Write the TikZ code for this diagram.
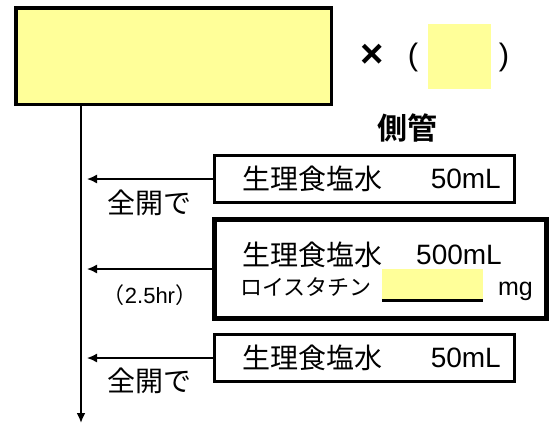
\documentclass[tikz,border=0pt]{standalone}
\usepackage{fontspec}
\setmainfont{Liberation Sans}
\newfontfamily\jp[BoldFont={Noto Sans CJK JP Bold}]{Noto Sans CJK JP}
\usetikzlibrary{arrows.meta}
\definecolor{blank}{HTML}{FFFF99}
\tikzset{
    mainbox/.style = {draw, line width = 3.5pt, fill = blank},
    salinebox/.style = {draw, line width = 3pt, minimum width = 300pt, minimum height = 47pt},
    feed/.style = {-{Latex[length = 10pt, width = 9pt]}, line width = 1.5pt},
    txt/.style = {inner sep = 0pt},
}
\newcommand{\fs}[1]{\fontsize{#1}{#1}\selectfont}
\begin{document}
\begin{tikzpicture}[x = 1pt, y = -1pt]
    \useasboundingbox (0, 0) rectangle (549, 424);

    % main regimen
    \node[mainbox, minimum width = 315.5pt, minimum height = 96.5pt] (regimen) at (173.5, 56) {};
    \node[txt] (times) at (372, 56) {\fs{40}\bfseries ×};
    \node[txt] (lparen) at (413, 57) {\fs{31}(};
    \node[fill = blank, minimum width = 63pt, minimum height = 65pt] (course) at (459.5, 56.5) {};
    \node[txt] (rparen) at (504, 57) {\fs{31})};
    \node[txt] (side) at (407.5, 127.5) {\fs{30}\jp\bfseries 側管};

    \coordinate (bottom) at (81, 423);
    \coordinate (inlet) at (87, 0);
    \draw[feed, line width = 2pt] (regimen.south -| bottom) -- (bottom);

    % first flush
    \node[salinebox] (flush1) at (364.5, 179) {};
    \node[txt, anchor = west] (flush1name) at (242, 179) {\fs{28}\jp 生理食塩水};
    \node[txt, anchor = east] (flush1vol) at (501, 179) {\fs{28}50mL};
    \draw[feed] (flush1.west) -- (flush1.west -| inlet);
    \node[txt] (flush1rate) at (149, 203) {\fs{28}\jp 全開で};

    % drip
    \node[salinebox, line width = 5pt, minimum width = 332pt, minimum height = 99pt] (drip) at (380.5, 269) {};
    \node[txt, anchor = west] (dripname) at (242, 255) {\fs{28}\jp 生理食塩水};
    \node[txt, anchor = east] (dripvol) at (502, 255) {\fs{28}500mL};
    \node[txt, anchor = west] (drug) at (240, 287) {\fs{22}\jp ロイスタチン};
    \node[fill = blank, inner sep = 0pt, minimum width = 101pt, minimum height = 30pt] (dose) at (432.5, 284) {};
    \draw[line width = 3pt] ([yshift = -1.5pt]dose.south west) -- ([yshift = -1.5pt]dose.south east);
    \node[txt, anchor = base east] (unit) at (533, 295) {\fs{25}mg};
    \draw[feed] (drip.west) -- (drip.west -| inlet);
    \node[txt] (driprate) at (150, 295) {\fs{22}{\jp （}2.5hr{\jp ）}};

    % second flush
    \node[salinebox] (flush2) at (364.5, 358) {};
    \node[txt, anchor = west] (flush2name) at (242, 358) {\fs{28}\jp 生理食塩水};
    \node[txt, anchor = east] (flush2vol) at (501, 358) {\fs{28}50mL};
    \draw[feed] (flush2.west) -- (flush2.west -| inlet);
    \node[txt] (flush2rate) at (149, 381) {\fs{28}\jp 全開で};
\end{tikzpicture}
\end{document}
